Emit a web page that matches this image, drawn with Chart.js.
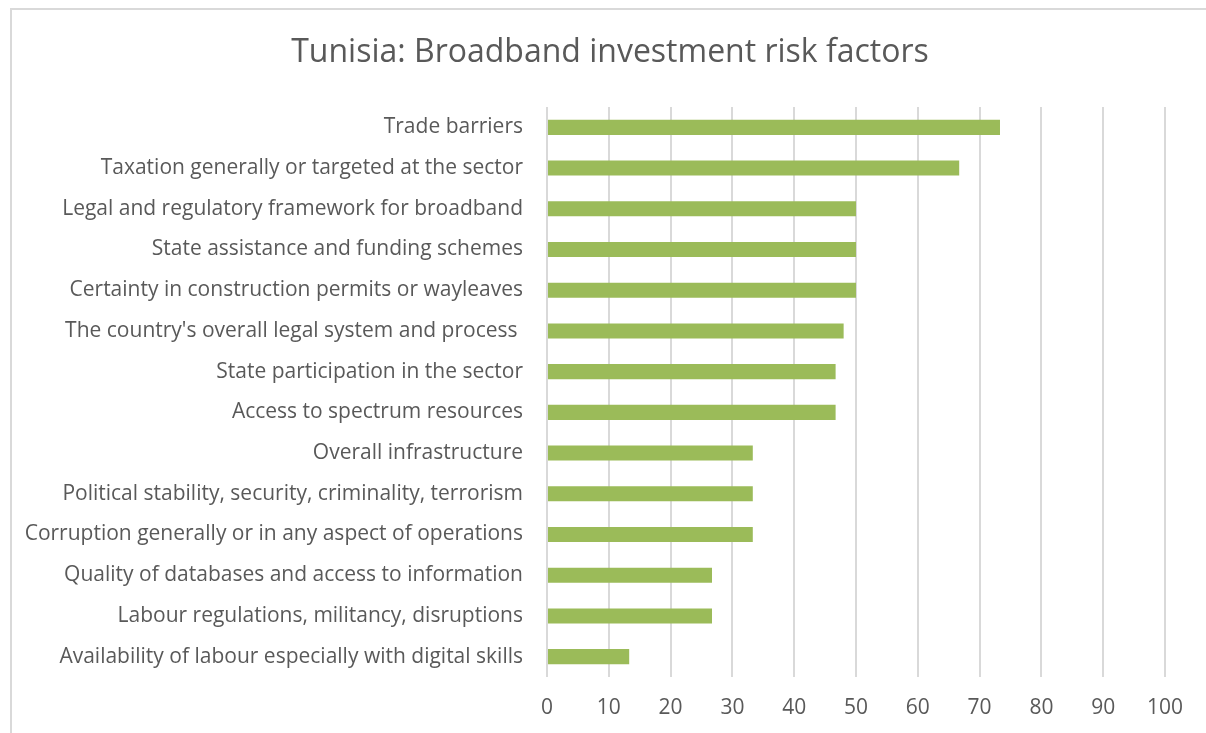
<!DOCTYPE html>
<html>
<head>
<meta charset="utf-8">
<script src="https://cdn.jsdelivr.net/npm/chart.js@4/dist/chart.umd.min.js"></script>
<style>
  html, body { margin: 0; padding: 0; background: #fff; }
  #wrap { width: 1206px; height: 733px; }
</style>
</head>
<body>
<div id="wrap"><canvas id="riskChart" width="1206" height="733"></canvas></div>
<script>
const chartTitle = "Tunisia: Broadband investment risk factors";

const categories = [
  "Trade barriers",
  "Taxation generally or targeted at the sector",
  "Legal and regulatory framework for broadband",
  "State assistance and funding schemes",
  "Certainty in construction permits or wayleaves",
  "The country's overall legal system and process ",
  "State participation in the sector",
  "Access to spectrum resources",
  "Overall infrastructure",
  "Political stability, security, criminality, terrorism",
  "Corruption generally or in any aspect of operations",
  "Quality of databases and access to information",
  "Labour regulations, militancy, disruptions",
  "Availability of labour especially with digital skills"
];

const riskValues = [73.3, 66.7, 50, 50, 50, 48, 46.7, 46.7, 33.3, 33.3, 33.3, 26.7, 26.7, 13.3];

const xTicks = [0, 10, 20, 30, 40, 50, 60, 70, 80, 90, 100];

const textColor = "#595959";
const gridColor = "#d9d9d9";
const fontFamily = "'Open Sans', sans-serif";

// light grey frame along top and left edge, like the exported chart box
const framePlugin = {
  id: "frame",
  beforeDraw(chart) {
    const ctx = chart.ctx;
    ctx.save();
    ctx.fillStyle = gridColor;
    ctx.fillRect(10, 8, chart.width - 10, 2);
    ctx.fillRect(10, 8, 2, chart.height - 8);
    ctx.restore();
  }
};

// title is centred on the whole frame, not on the layout box, so draw it here
const titlePlugin = {
  id: "centredTitle",
  afterDraw(chart) {
    const ctx = chart.ctx;
    ctx.save();
    ctx.font = "32px " + fontFamily;
    ctx.fillStyle = textColor;
    ctx.textAlign = "center";
    ctx.textBaseline = "middle";
    ctx.fillText(chartTitle, 610, 53);
    ctx.restore();
  }
};

const ctx = document.getElementById("riskChart").getContext("2d");

new Chart(ctx, {
  type: "bar",
  data: {
    labels: categories,
    datasets: [{
      data: riskValues,
      backgroundColor: "#9bbb59",
      borderWidth: 0,
      barPercentage: 0.37,
      categoryPercentage: 1
    }]
  },
  options: {
    indexAxis: "y",
    responsive: false,
    animation: false,
    layout: { padding: { left: 12, right: 41, top: 107, bottom: 0 } },
    plugins: {
      legend: { display: false },
      tooltip: { enabled: false },
      title: { display: false }
    },
    scales: {
      x: {
        min: 0,
        max: 100,
        afterBuildTicks: scale => { scale.ticks = xTicks.map(v => ({ value: v })); },
        afterFit: scale => { scale.height = 56; },
        grid: { color: gridColor, lineWidth: 2, drawTicks: false },
        border: { display: false },
        ticks: {
          color: textColor,
          padding: 18,
          font: { family: fontFamily, size: 21 }
        }
      },
      y: {
        afterFit: scale => { scale.width = 535; },
        grid: { display: false },
        border: { display: false },
        ticks: {
          color: textColor,
          padding: 16,
          autoSkip: false,
          font: { family: fontFamily, size: 21 }
        }
      }
    }
  },
  plugins: [framePlugin, titlePlugin]
});
</script>
</body>
</html>
